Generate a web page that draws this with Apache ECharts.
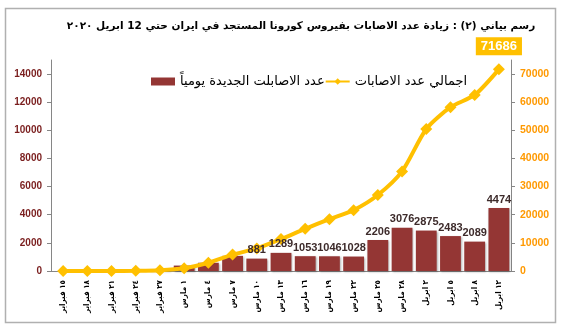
<!DOCTYPE html>
<html>
<head>
<meta charset="utf-8">
<script src="https://cdn.jsdelivr.net/npm/echarts@6/dist/echarts.min.js"></script>
<style>
  html, body { margin: 0; padding: 0; background: #ffffff; }
  #chart { width: 563px; height: 331px; }
</style>
</head>
<body>
<div id="chart"></div>
<script>
// Dates on the category axis
const categories = [
  '١٥ فبراير', '١٨ فبراير', '٢١ فبراير', '٢٤ فبراير', '٢٧ فبراير',
  '١ مارس', '٤ مارس', '٧ مارس', '١٠ مارس', '١٣ مارس', '١٦ مارس',
  '١٩ مارس', '٢٢ مارس', '٢٥ مارس', '٢٨ مارس',
  '٢ ابريل', '٥ ابريل', '٨ ابريل', '١٢ ابريل'
];

// New cases per day (bars, left axis)
const dailyNew = [0, 0, 13, 18, 106, 385, 586, 1076, 881, 1289, 1053, 1046, 1028, 2206, 3076, 2875, 2483, 2089, 4474];

// Cumulative cases (line, right axis)
const totalCases = [0, 0, 18, 61, 245, 978, 2922, 5823, 8042, 11364, 14991, 18407, 21638, 27017, 35408, 50468, 58226, 62589, 71686];

// Axis tick values
const leftTicks = [0, 2000, 4000, 6000, 8000, 10000, 12000, 14000];
const rightTicks = [0, 10000, 20000, 30000, 40000, 50000, 60000, 70000];

// Daily bars that carry a value label
const labelledFrom = 8;

const titleText = 'رسم بياني (٢) : زيادة عدد الاصابات بفيروس كورونا المستجد في ايران حتي 12 ابريل ٢٠٢٠';
const barName = 'عدد الاصابلت الجديدة يومياً';
const lineName = 'اجمالي عدد الاصابات';

const arabicFont = '"DejaVu Sans", "Liberation Sans", sans-serif';
const arabicNarrow = '"DejaVu Sans Condensed", "DejaVu Sans", sans-serif';
const numFont = '"Liberation Sans", Arial, sans-serif';

const chart = echarts.init(document.getElementById('chart'), null, { renderer: 'canvas' });

const lastIdx = totalCases.length - 1;
const plain = v => String(v);

chart.setOption({
  animation: false,
  backgroundColor: '#ffffff',
  graphic: [{
    type: 'rect',
    shape: { x: 5.5, y: 8.5, width: 550, height: 314 },
    style: { fill: 'none', stroke: '#b0b0b0', lineWidth: 1.5 },
    silent: true,
    z: -10
  }],
  title: {
    text: titleText,
    left: 296,
    textAlign: 'center',
    top: 16,
    textStyle: { fontFamily: arabicFont, fontSize: 10.5, fontWeight: 'bold', color: '#000000' }
  },
  legend: {
    left: 146,
    top: 70,
    itemWidth: 24,
    itemHeight: 8,
    itemGap: 0,
    data: [
      { name: barName, icon: 'rect' },
      { name: lineName }
    ],
    textStyle: { fontFamily: arabicFont, fontSize: 13, color: '#000000' }
  },
  grid: { left: 51, right: 52, top: 60, bottom: 60 },
  xAxis: {
    type: 'category',
    data: categories,
    axisLine: { lineStyle: { color: '#868686', width: 1 } },
    axisTick: { show: false },
    axisLabel: {
      interval: 0,
      rotate: 90,
      margin: 9,
      fontFamily: arabicNarrow,
      fontSize: 8,
      fontWeight: 'bold',
      color: '#000000'
    }
  },
  yAxis: [{
    type: 'value',
    min: 0,
    max: 15000,
    interval: 1000,
    position: 'left',
    splitLine: { show: false },
    axisLine: { show: true, lineStyle: { color: '#868686', width: 1 } },
    axisTick: { show: true, length: 4, customValues: leftTicks, lineStyle: { color: '#868686' } },
    axisLabel: {
      customValues: leftTicks,
      formatter: plain,
      margin: 9,
      fontFamily: numFont,
      fontSize: 10,
      fontWeight: 'bold',
      color: '#7a1e1e'
    }
  }, {
    type: 'value',
    min: 0,
    max: 75000,
    interval: 5000,
    position: 'right',
    splitLine: { show: false },
    axisLine: { show: true, lineStyle: { color: '#868686', width: 1 } },
    axisTick: { show: true, length: 4, customValues: rightTicks, lineStyle: { color: '#868686' } },
    axisLabel: {
      customValues: rightTicks,
      formatter: plain,
      margin: 9,
      fontFamily: numFont,
      fontSize: 10.5,
      fontWeight: 'bold',
      color: '#ff9900'
    }
  }],
  series: [{
    name: barName,
    type: 'bar',
    yAxisIndex: 0,
    barCategoryGap: '14%',
    z: 2,
    itemStyle: {
      color: '#943634',
      shadowColor: 'rgba(0,0,0,0.3)',
      shadowBlur: 2,
      shadowOffsetX: 1,
      shadowOffsetY: 1
    },
    data: dailyNew
  }, {
    name: lineName,
    type: 'line',
    yAxisIndex: 1,
    z: 3,
    smooth: 0.25,
    symbol: 'diamond',
    symbolSize: 12,
    lineStyle: { color: '#ffc000', width: 4 },
    itemStyle: { color: '#ffc000' },
    data: totalCases.map((v, i) => i === lastIdx ? {
      value: v,
      label: {
        show: true,
        position: 'top',
        distance: 8,
        backgroundColor: '#ffc000',
        padding: [3, 5, 2, 5],
        fontFamily: numFont,
        fontSize: 13,
        fontWeight: 'bold',
        color: '#ffffff'
      }
    } : v)
  }, {
    // value labels of the daily bars, kept above the cumulative line
    name: 'dailyLabels',
    type: 'bar',
    yAxisIndex: 0,
    barCategoryGap: '14%',
    barGap: '-100%',
    z: 4,
    silent: true,
    itemStyle: { color: 'rgba(0,0,0,0)' },
    label: {
      position: 'top',
      distance: 3,
      fontFamily: numFont,
      fontSize: 11,
      fontWeight: 'bold',
      color: '#3d2b2b'
    },
    data: dailyNew.map((v, i) => ({ value: v, label: { show: i >= labelledFrom } }))
  }]
});
</script>
</body>
</html>
